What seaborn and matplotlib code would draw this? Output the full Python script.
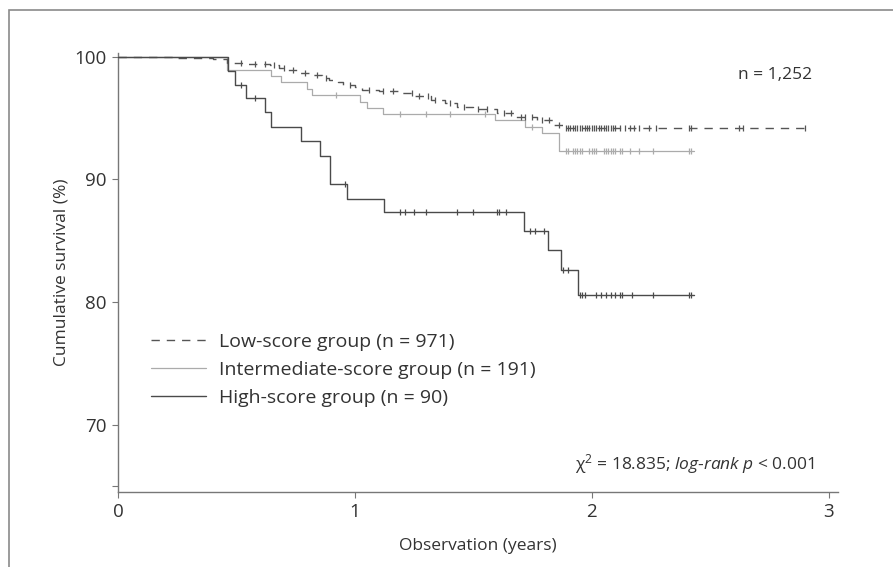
import numpy as np
import pandas as pd
import matplotlib
matplotlib.use("Agg")
import matplotlib.pyplot as plt
import seaborn as sns

# ---------------- data ----------------
groups = ["Low-score group (n = 971)",
          "Intermediate-score group (n = 191)",
          "High-score group (n = 90)"]

low_t = [0, 0.25, 0.40, 0.46, 0.55, 0.64, 0.68, 0.71, 0.76, 0.81, 0.86, 0.89,
         0.93, 0.95, 1.00, 1.03, 1.10, 1.19, 1.25, 1.32, 1.38, 1.43, 1.50,
         1.60, 1.68, 1.77, 1.84, 1.88, 2.90]
low_s = [100, 99.9, 99.8, 99.5, 99.4, 99.3, 99.1, 98.9, 98.7, 98.5, 98.3, 98.1,
         97.9, 97.7, 97.5, 97.3, 97.2, 97.0, 96.8, 96.5, 96.2, 95.9, 95.7,
         95.4, 95.1, 94.8, 94.4, 94.2, 94.2]

int_t = [0, 0.46, 0.648, 0.69, 0.80, 0.82, 1.02, 1.05, 1.12, 1.59, 1.72, 1.79,
         1.86, 2.43]
int_s = [100, 98.9, 98.4, 97.9, 97.4, 96.9, 96.3, 95.8, 95.3, 94.8, 94.3, 93.8,
         92.3, 92.3]

high_t = [0, 0.464, 0.494, 0.54, 0.62, 0.645, 0.771, 0.855, 0.897, 0.969,
          1.122, 1.713, 1.816, 1.869, 1.942, 2.43]
high_s = [100, 98.8, 97.7, 96.6, 95.5, 94.3, 93.1, 91.9, 89.6, 88.4,
          87.3, 85.8, 84.2, 82.6, 80.6, 80.6]

low_cens = [0.52, 0.58, 0.62, 0.66, 0.70, 0.74, 0.79, 0.84, 0.88, 0.98, 1.06,
            1.12, 1.16, 1.24, 1.27, 1.31, 1.34, 1.40, 1.46, 1.52, 1.56, 1.63,
            1.66, 1.70, 1.72, 1.75, 1.79, 1.82, 1.86, 1.89, 1.90, 1.91, 1.92,
            1.93, 1.94, 1.95, 1.96, 1.97, 1.98, 1.99, 2.00, 2.01, 2.02, 2.03,
            2.04, 2.05, 2.06, 2.07, 2.08, 2.09, 2.10, 2.12, 2.14, 2.16, 2.18,
            2.20, 2.24, 2.27, 2.41, 2.42, 2.62, 2.64, 2.90]
int_cens = [0.92, 1.19, 1.30, 1.40, 1.55, 1.75, 1.89, 1.90, 1.92, 1.93, 1.94,
            1.95, 1.96, 1.99, 2.00, 2.01, 2.02, 2.05, 2.06, 2.07, 2.08, 2.09,
            2.10, 2.12, 2.13, 2.16, 2.20, 2.26, 2.41, 2.42]
high_cens = [0.52, 0.58, 0.96, 1.19, 1.21, 1.25, 1.30, 1.43, 1.50, 1.60, 1.61,
             1.64, 1.74, 1.76, 1.80, 1.88, 1.90, 1.95, 1.96, 1.97, 2.02, 2.04,
             2.06, 2.08, 2.10, 2.12, 2.13, 2.17, 2.26, 2.41, 2.42]

x_ticks = [0, 1, 2, 3]
y_ticks = [65, 70, 80, 90, 100]
y_ticklabels = ["", "70", "80", "90", "100"]

# ---------------- styling ----------------
sns.set_theme(style="ticks")
plt.rcParams["font.family"] = ["Open Sans", "DejaVu Sans"]
plt.rcParams["mathtext.fontset"] = "custom"
plt.rcParams["mathtext.rm"] = "Open Sans"
plt.rcParams["mathtext.it"] = "Open Sans:italic"

FS = 12.5
FS_TICK = 13.5
FS_LEG = 14
txt_col = "#333333"

fig = plt.figure(figsize=(8.93, 5.67), dpi=100)
ax = fig.add_axes([118 / 893, 75 / 567, (838 - 118) / 893, (492 - 53) / 567])

# outer frame
fig.add_artist(plt.Rectangle((9 / 893, -0.05), 1.2, 1 - 10 / 567 + 0.05,
                             transform=fig.transFigure, fill=False,
                             edgecolor="#8a8a8a", linewidth=1.2))

styles = [
    dict(color="#555555", lw=1.0, ls=(0, (6, 5)), zorder=4),
    dict(color="#ababab", lw=0.9, ls="-", zorder=3),
    dict(color="#4a4a4a", lw=1.0, ls="-", zorder=5),
]
series = [(low_t, low_s, low_cens), (int_t, int_s, int_cens),
          (high_t, high_s, high_cens)]

for name, (t, s, cens), st in zip(groups, series, styles):
    df = pd.DataFrame({"time": t, "surv": s})
    sns.lineplot(data=df, x="time", y="surv", ax=ax, drawstyle="steps-post",
                 color=st["color"], linewidth=st["lw"], linestyle=st["ls"],
                 label=name, zorder=st["zorder"], estimator=None, sort=False)
    idx = np.searchsorted(np.array(t), np.array(cens), side="right") - 1
    cdf = pd.DataFrame({"time": cens, "surv": np.array(s)[idx]})
    sns.scatterplot(data=cdf, x="time", y="surv", ax=ax, marker="|", s=24,
                    color=st["color"], linewidth=0.9, zorder=st["zorder"],
                    legend=False)

ax.set_xlim(0, 3.04)
ax.set_ylim(64.5, 100.3)
ax.set_xticks(x_ticks)
ax.set_xticklabels([str(v) for v in x_ticks])
ax.set_yticks(y_ticks)
ax.set_yticklabels(y_ticklabels)
ax.tick_params(axis="both", labelsize=FS_TICK, colors=txt_col, length=4,
               width=0.8, color="#777777", pad=4)
for sp in ["top", "right"]:
    ax.spines[sp].set_visible(False)
for sp in ["left", "bottom"]:
    ax.spines[sp].set_color("#777777")
    ax.spines[sp].set_linewidth(1.0)

ax.set_xlabel("Observation (years)", fontsize=FS, color=txt_col, labelpad=12)
ax.set_ylabel("Cumulative survival (%)", fontsize=FS, color=txt_col,
              labelpad=4)

leg = ax.legend(loc="upper left", bbox_to_anchor=(0.035, 0.381), frameon=False,
                fontsize=FS_LEG, handlelength=2.85, handletextpad=0.65,
                labelspacing=0.52, borderaxespad=0)
for tx in leg.get_texts():
    tx.set_color(txt_col)

ax.text(2.93, 98.5, "n = 1,252", ha="right", va="center", fontsize=FS,
        color=txt_col)
ax.text(1.93, 66.8, r"χ$^{2}$ = 18.835; $\it{log}$-$\it{rank}$ $\it{p}$ < 0.001",
        ha="left", va="center", fontsize=FS, color=txt_col)

fig.savefig("out.png", dpi=100)
